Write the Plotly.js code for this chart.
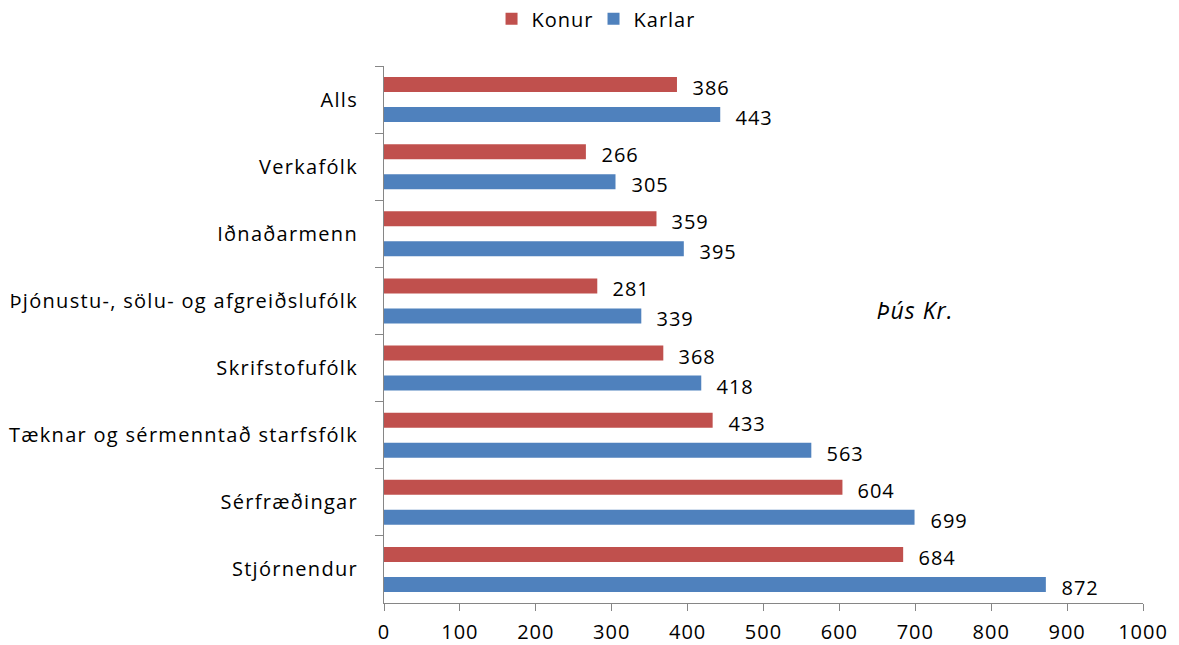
<!DOCTYPE html>
<html>
<head>
<meta charset="utf-8">
<script src="https://cdn.plot.ly/plotly-3.0.1.min.js"></script>
<style>
html,body{margin:0;padding:0;background:#fff;}
#chart{width:1179px;height:645px;}
#chart svg text{letter-spacing:1px;}
#chart svg .ytick text{letter-spacing:1.3px;}
</style>
</head>
<body>
<div id="chart"></div>
<script>
const categories = ["Alls","Verkafólk","Iðnaðarmenn","Þjónustu-, sölu- og afgreiðslufólk","Skrifstofufólk","Tæknar og sérmenntað starfsfólk","Sérfræðingar","Stjórnendur"];
const konur = [386,266,359,281,368,433,604,684];
const karlar = [443,305,395,339,418,563,699,872];
const xTicks = [0,100,200,300,400,500,600,700,800,900,1000];

const RED = "#C0504D", BLUE = "#4F81BD";
const FONT = "Open Sans, Liberation Sans, sans-serif";
const BW = 0.224;

const traces = [
  {type:"bar", orientation:"h", name:"Konur", y:categories, x:konur, marker:{color:RED}, width:BW, offset:-0.336, hoverinfo:"x"},
  {type:"bar", orientation:"h", name:"Karlar", y:categories, x:karlar, marker:{color:BLUE}, width:BW, offset:0.112, hoverinfo:"x"}
];

const annotations = [];
categories.forEach((c,i)=>{
  annotations.push({x:konur[i], y:i-0.224, xref:"x", yref:"y", text:String(konur[i]), showarrow:false, xanchor:"left", xshift:15, yshift:-3, font:{family:FONT,size:20,color:"#000"}});
  annotations.push({x:karlar[i], y:i+0.224, xref:"x", yref:"y", text:String(karlar[i]), showarrow:false, xanchor:"left", xshift:15, yshift:-3, font:{family:FONT,size:20,color:"#000"}});
});
annotations.push({xref:"paper", yref:"paper", x:0.70, y:0.545, text:"<i>Þús Kr.</i>", showarrow:false, xanchor:"center", font:{family:FONT,size:23,color:"#000"}});

const layout = {
  width:1179, height:645,
  margin:{l:384, r:36, t:66, b:42},
  paper_bgcolor:"#fff", plot_bgcolor:"#fff",
  barmode:"overlay",
  font:{family:FONT, size:20, color:"#000"},
  showlegend:true,
  legend:{orientation:"h", x:0.503, xref:"container", xanchor:"center", y:0.971, yref:"container", yanchor:"middle", font:{size:20}, traceorder:"normal"},
  xaxis:{range:[0,1000], tickvals:xTicks, ticktext:xTicks.map(String), showgrid:false, zeroline:false, showline:true, linecolor:"#868686", linewidth:1, ticks:"outside", ticklen:7, tickcolor:"#868686", tickfont:{size:20}, ticklabelstandoff:4, fixedrange:true},
  yaxis:{type:"category", categoryorder:"array", categoryarray:categories, range:[7.5,-0.5], showgrid:false, zeroline:false, showline:true, linecolor:"#868686", linewidth:1, ticks:"outside", ticklen:8, tickcolor:"#868686", tickson:"boundaries", tickfont:{size:20}, ticklabelstandoff:21, fixedrange:true},
  annotations:annotations
};

Plotly.newPlot("chart", traces, layout, {displayModeBar:false, staticPlot:true});
</script>
</body>
</html>
